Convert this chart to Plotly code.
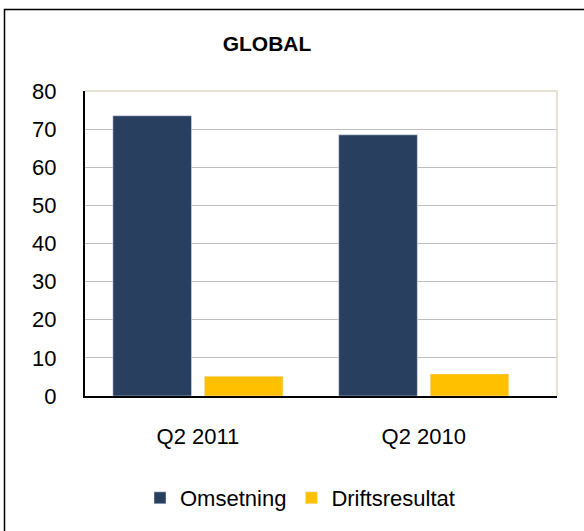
import plotly.graph_objects as go

categories = ["Q2 2011", "Q2 2010"]
omsetning = [73.5, 68.5]
driftsresultat = [5.2, 5.8]
y_ticks = [0, 10, 20, 30, 40, 50, 60, 70, 80]

W, H = 584, 531
L, R, T, B = 85, 27, 91, 135
pw, ph = W - L - R, H - T - B

fig = go.Figure()
fig.add_trace(go.Bar(name="Omsetning", x=categories, y=omsetning, marker_color="#283F5F"))
fig.add_trace(go.Bar(name="Driftsresultat", x=categories, y=driftsresultat, marker_color="#FFC000"))

def px_x(x):
    return (x - L) / pw

def px_y(y):
    return (H - B - y) / ph

shapes = [
    dict(type="rect", xref="paper", yref="paper", x0=px_x(4.5), x1=px_x(600), y0=px_y(9.5), y1=px_y(560),
         line=dict(color="black", width=1.5), fillcolor="rgba(0,0,0,0)", layer="below"),
    dict(type="line", xref="paper", yref="paper", x0=0, x1=1, y0=1, y1=1, line=dict(color="#DDD9C3", width=1.5)),
    dict(type="line", xref="paper", yref="paper", x0=1, x1=1, y0=0, y1=1, line=dict(color="#DDD9C3", width=1.5)),
]

fig.update_layout(
    width=W, height=H,
    margin=dict(l=L, r=R, t=T, b=B),
    paper_bgcolor="white", plot_bgcolor="white",
    font=dict(family="Liberation Sans, Arial, sans-serif", color="black"),
    title=dict(text="<b>GLOBAL</b>", x=267 / W, xanchor="center", y=1 - 44 / H, yanchor="middle",
               font=dict(size=21, color="black")),
    barmode="group", bargap=0.19, bargroupgap=0.14,
    showlegend=True,
    legend=dict(orientation="h", x=px_x(300), xanchor="center", y=px_y(498), yanchor="middle",
                font=dict(size=22), itemwidth=30, traceorder="normal"),
    shapes=shapes,
    xaxis=dict(range=[-0.5, 1.59], showline=True, linecolor="black", linewidth=2,
               ticks="", tickfont=dict(size=22), ticklabelstandoff=20, showgrid=False, zeroline=False),
    yaxis=dict(range=[0, 80], tickvals=y_ticks, showline=True, linecolor="black", linewidth=2,
               ticks="", tickfont=dict(size=22), ticklabelstandoff=22,
               showgrid=True, gridcolor="#BFBFBF", gridwidth=1, zeroline=False),
)

fig.write_html(
    "out.html",
    config={"displayModeBar": False},
    post_script="document.body.style.margin='0';document.body.style.overflow='hidden';",
)
